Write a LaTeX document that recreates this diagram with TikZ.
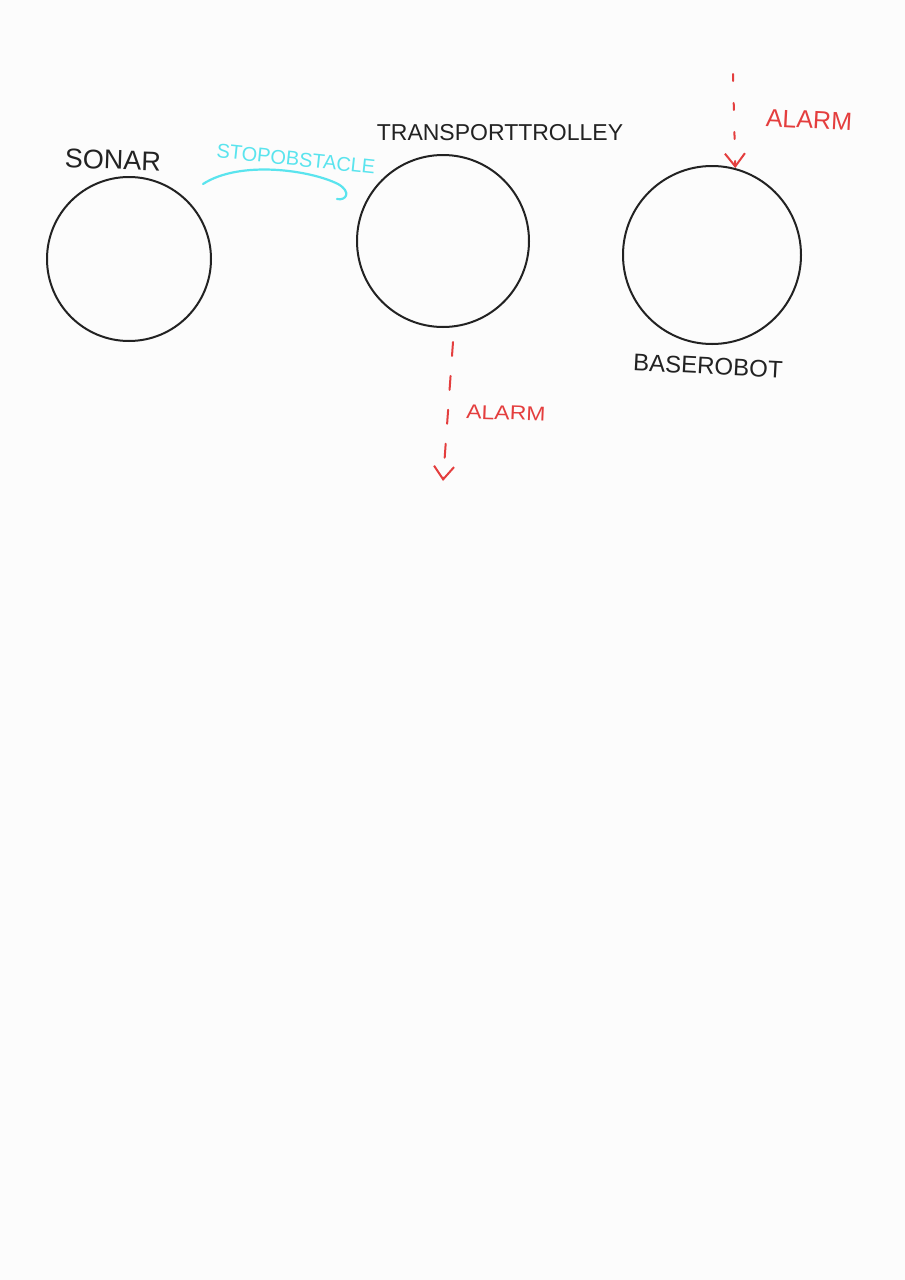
\documentclass[tikz,border=0pt]{standalone}
\usepackage{fontspec}
\setmainfont{Liberation Sans}
\usetikzlibrary{arrows.meta}
\definecolor{bgcol}{RGB}{252,252,252}
\definecolor{inkblack}{RGB}{34,34,34}
\definecolor{inkred}{RGB}{228,62,62}
\definecolor{inkcyan}{RGB}{90,228,238}
\tikzset{
  statecircle/.style={circle,draw=inkblack,line width=2pt,inner sep=0pt},
  blacklabel/.style={text=inkblack,inner sep=0pt},
  redlabel/.style={text=inkred,inner sep=0pt},
  cyanlabel/.style={text=inkcyan,inner sep=0pt},
  alarmarrow/.style={draw=inkred,line width=2pt,line cap=round,-{Straight Barb[length=13pt,width=20pt,line width=2pt]}},
  stoparrow/.style={draw=inkcyan,line width=2.2pt,line cap=round,line join=round}
}
\begin{document}
\begin{tikzpicture}[x=1pt,y=-1pt]
\useasboundingbox (0,0) rectangle (905,1280);
\fill[bgcol] (0,0) rectangle (905,1280);
% circles
\node[statecircle,minimum size=164pt] (sonar) at (129,259) {};
\node[statecircle,minimum size=172pt] (trolley) at (443,241) {};
\node[statecircle,minimum size=178pt] (base) at (712,255) {};
% labels
\node[blacklabel,font=\fontsize{27}{27}\selectfont,rotate=-2] (sonarlbl) at (113,160) {SONAR};
\node[blacklabel,font=\fontsize{23}{23}\selectfont] (trolleylbl) at (500,133) {TRANSPORTTROLLEY};
\node[blacklabel,font=\fontsize{24}{24}\selectfont,rotate=-3] (baselbl) at (708,366) {BASEROBOT};
\node[cyanlabel,font=\fontsize{20}{20}\selectfont,rotate=-6] (stoplbl) at (296,159) {STOPOBSTACLE};
\node[redlabel,font=\fontsize{25}{25}\selectfont,rotate=-3] (alarmtop) at (809,120) {ALARM};
\node[redlabel,font=\fontsize{20}{20}\selectfont,xscale=1.15,rotate=-2] (alarmmid) at (506,413) {ALARM};
% connectors
\coordinate (stopstart) at (203,184);
\coordinate (stopend) at (337,199);
\draw[stoparrow] (stopstart) .. controls (240,160) and (310,170) .. (338,184)
  .. controls (352,192) and (346,201) .. (stopend);
\coordinate (alarmtopstart) at (733,74);
\draw[alarmarrow,dash pattern=on 7pt off 22pt] (alarmtopstart) -- (base.75);
\coordinate (alarmmidstart) at (453,342);
\coordinate (alarmmidend) at (443,481);
\draw[alarmarrow,dash pattern=on 14pt off 20pt] (alarmmidstart) -- (alarmmidend);
\end{tikzpicture}
\end{document}
